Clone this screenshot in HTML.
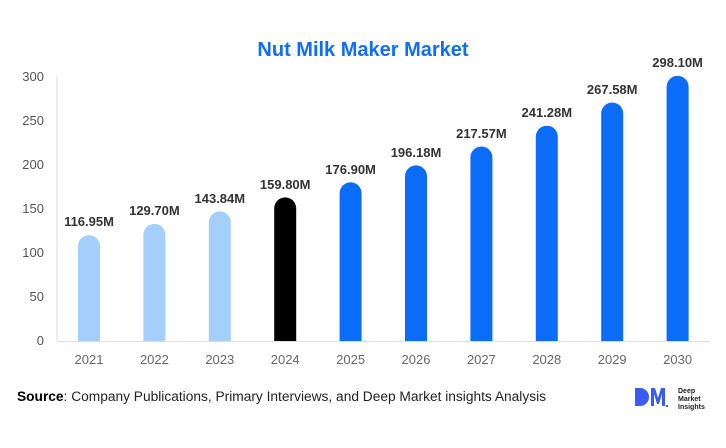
<!DOCTYPE html>
<html><head><style>
body{margin:0;background:#fff;}
svg text{font-family:"Liberation Sans",Arial,sans-serif;}
</style></head><body>
<svg width="726" height="443" viewBox="0 0 726 443" xmlns="http://www.w3.org/2000/svg">
<rect width="726" height="443" fill="#fff"/>
<text x="363" y="56" text-anchor="middle" font-size="20" font-weight="bold" fill="#0f6ef5">Nut Milk Maker Market</text>
<line x1="57" y1="76" x2="57" y2="341" stroke="#ddd" stroke-width="1"/>
<line x1="57" y1="341.5" x2="710" y2="341.5" stroke="#ddd" stroke-width="1"/>
<g font-size="13" fill="#555" text-anchor="end">
<text x="44" y="81">300</text><text x="44" y="125">250</text><text x="44" y="169">200</text>
<text x="44" y="213">150</text><text x="44" y="257">100</text><text x="44" y="301">50</text><text x="44" y="345">0</text>
</g>
<g font-size="13" fill="#666" text-anchor="middle">
<text x="89" y="364">2021</text><text x="154.4" y="364">2022</text><text x="219.8" y="364">2023</text><text x="285.2" y="364">2024</text><text x="350.6" y="364">2025</text><text x="416" y="364">2026</text><text x="481.4" y="364">2027</text><text x="546.8" y="364">2028</text><text x="612.2" y="364">2029</text><text x="677.6" y="364">2030</text>
</g>
<g font-size="13" font-weight="bold" fill="#333" text-anchor="middle">
<path d="M78 341V246.1a11 11 0 0 1 22 0V341z" fill="#a3cffa"/><text x="89" y="226">116.95M</text>
<path d="M143.4 341V234.9a11 11 0 0 1 22 0V341z" fill="#a3cffa"/><text x="154.4" y="215">129.70M</text>
<path d="M208.8 341V222.4a11 11 0 0 1 22 0V341z" fill="#a3cffa"/><text x="219.8" y="203">143.84M</text>
<path d="M274.2 341V208.4a11 11 0 0 1 22 0V341z" fill="#000"/><text x="285.2" y="189">159.80M</text>
<path d="M339.6 341V193.3a11 11 0 0 1 22 0V341z" fill="#0a6cf7"/><text x="350.6" y="174">176.90M</text>
<path d="M405 341V176.4a11 11 0 0 1 22 0V341z" fill="#0a6cf7"/><text x="416" y="157">196.18M</text>
<path d="M470.4 341V157.5a11 11 0 0 1 22 0V341z" fill="#0a6cf7"/><text x="481.4" y="138">217.57M</text>
<path d="M535.8 341V136.7a11 11 0 0 1 22 0V341z" fill="#0a6cf7"/><text x="546.8" y="117">241.28M</text>
<path d="M601.2 341V113.5a11 11 0 0 1 22 0V341z" fill="#0a6cf7"/><text x="612.2" y="94">267.58M</text>
<path d="M666.6 341V86.8a11 11 0 0 1 22 0V341z" fill="#0a6cf7"/><text x="677.6" y="67">298.10M</text>
</g>
<text x="17" y="401" font-size="13.5" fill="#222" textLength="529" lengthAdjust="spacingAndGlyphs"><tspan font-weight="bold" fill="#000">Source</tspan>: Company Publications, Primary Interviews, and Deep Market insights Analysis</text>
<g>
<path d="M635 388h5a9 9 0 0 1 0 18h-5z" fill="#3b5bf5"/>
<path d="M651 388h4l3 10 3-10h4v18h-3v-12l-3 10h-2l-3-10v12h-3z" fill="#3b5bf5"/>
<rect x="666" y="405" width="2" height="2" fill="#3b5bf5"/>
<text x="678" y="393" font-size="7" font-weight="bold" fill="#222">Deep</text>
<text x="678" y="401" font-size="7" font-weight="bold" fill="#222">Market</text>
<text x="678" y="409" font-size="7" font-weight="bold" fill="#222">Insights</text>
</g>
</svg>
</body></html>
